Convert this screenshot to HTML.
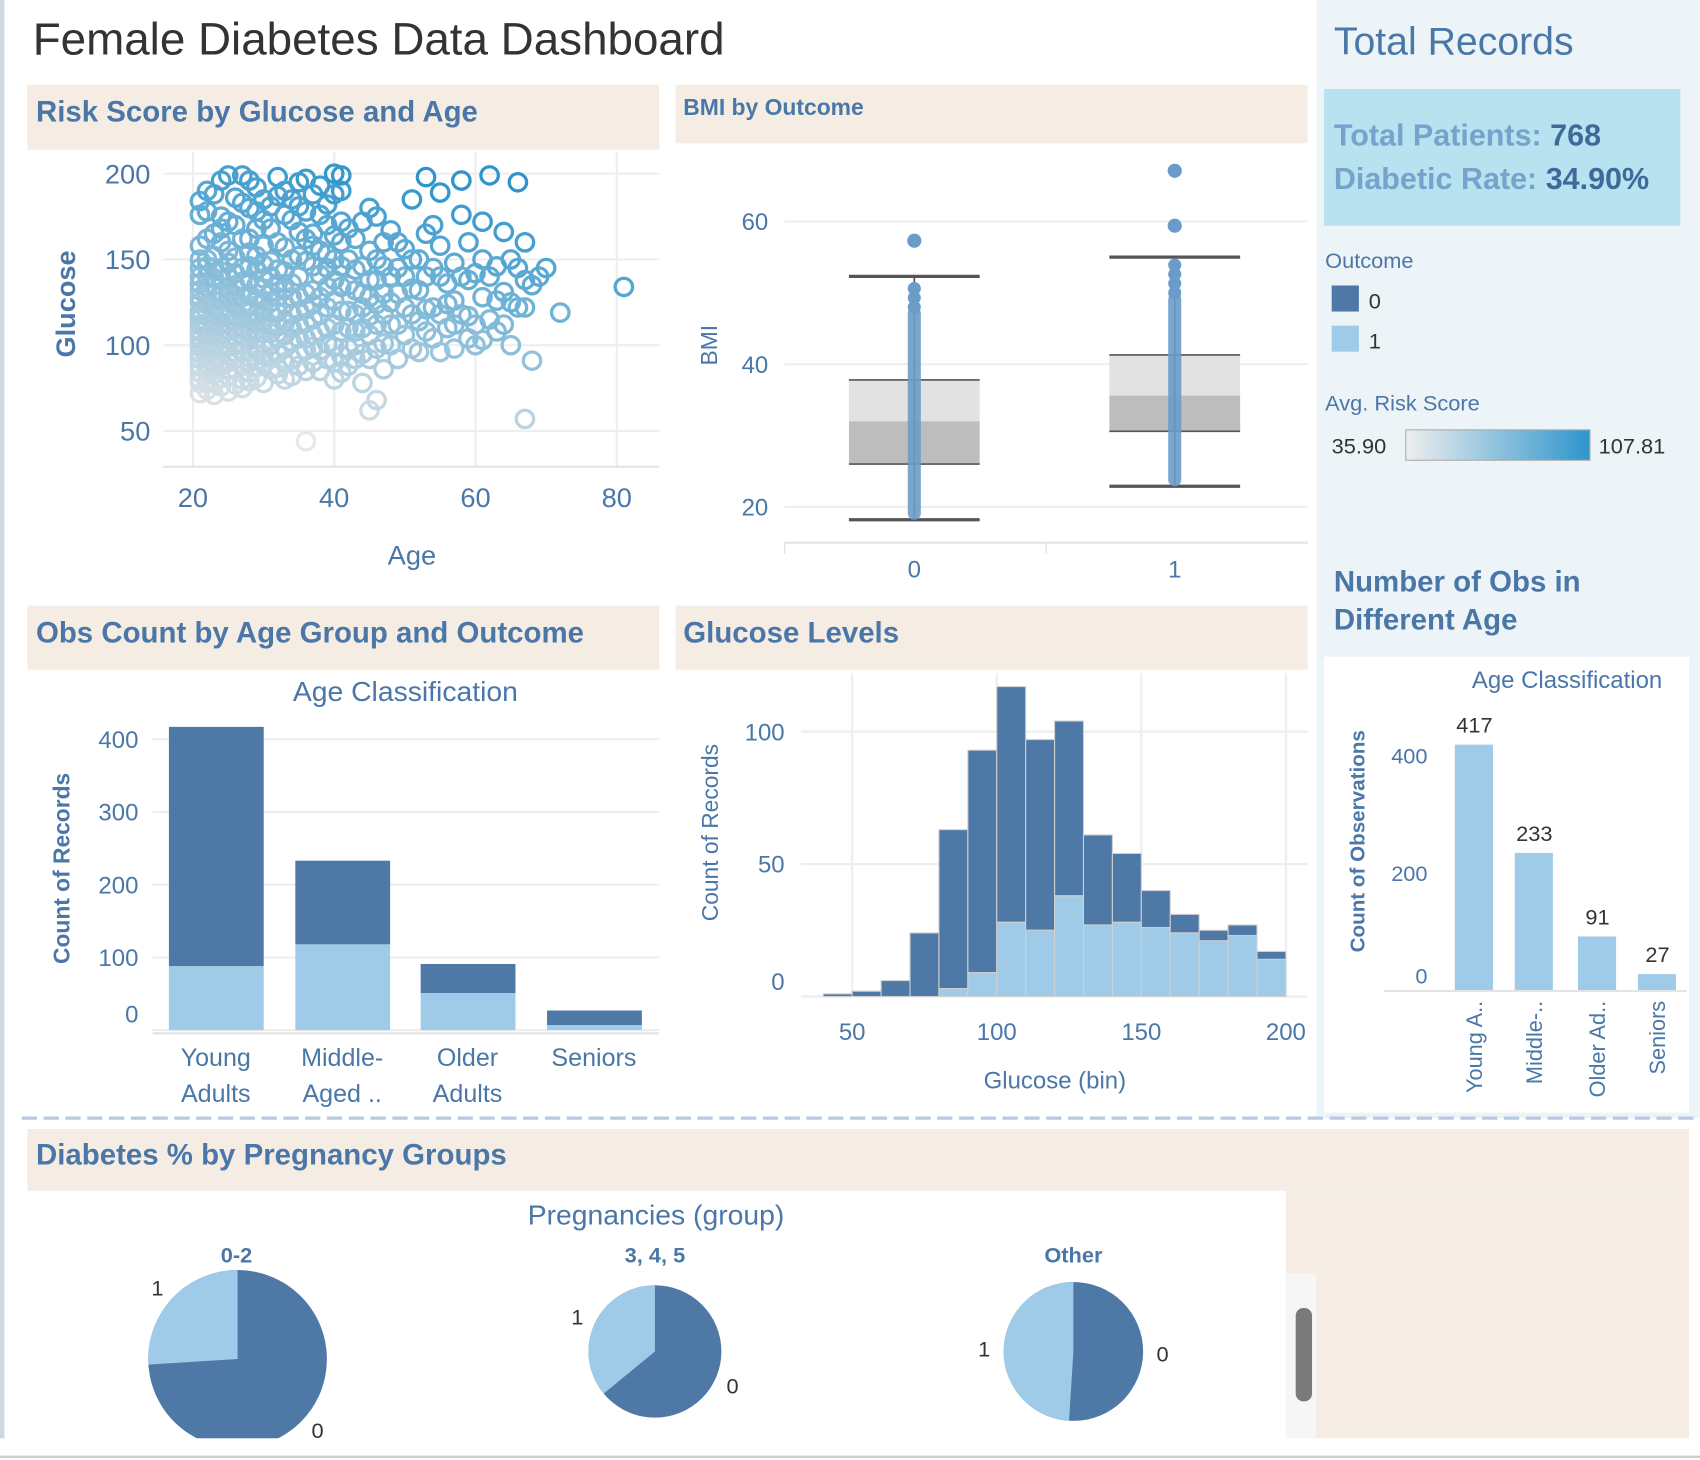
<!DOCTYPE html>
<html><head><meta charset="utf-8"><title>Female Diabetes Data Dashboard</title>
<style>
html,body{margin:0;padding:0;background:#fff;}
svg{display:block;font-family:"Liberation Sans",Arial,sans-serif;}
</style></head>
<body>
<svg id="dash" width="1700" height="1460" viewBox="0 0 1560 1345" preserveAspectRatio="none" xmlns="http://www.w3.org/2000/svg">
<rect x="0" y="0" width="1560" height="1345" fill="#fff"/>
<rect x="0" y="0" width="4" height="1345" fill="#cfd6df"/>
<rect x="1208" y="0" width="352" height="1030" fill="#ecf4f8"/>
<text x="30" y="50" font-size="42" fill="#333">Female Diabetes Data Dashboard</text>

<rect x="25" y="78" width="580" height="60" fill="#f5ede3"/>
<text x="33" y="112" font-size="27" font-weight="bold" fill="#4a77a8">Risk Score by Glucose and Age</text>
<rect x="620" y="78" width="580" height="54" fill="#f5ede3"/>
<text x="627" y="106" font-size="21" font-weight="bold" fill="#4a77a8">BMI by Outcome</text>
<rect x="25" y="558" width="580" height="59" fill="#f5ede3"/>
<text x="33" y="592" font-size="27" font-weight="bold" fill="#4a77a8">Obs Count by Age Group and Outcome</text>
<rect x="620" y="558" width="580" height="59" fill="#f5ede3"/>
<text x="627" y="592" font-size="27" font-weight="bold" fill="#4a77a8">Glucose Levels</text>

<text x="1224" y="50" font-size="36" fill="#4a77a8">Total Records</text>
<rect x="1215" y="82" width="327" height="126" fill="#b9e2f0"/>
<text x="1224" y="134" font-size="28" font-weight="bold" fill="#74a3cc">Total Patients: <tspan fill="#3d6a9a">768</tspan></text>
<text x="1224" y="174" font-size="28" font-weight="bold" fill="#74a3cc">Diabetic Rate: <tspan fill="#3d6a9a">34.90%</tspan></text>
<text x="1216" y="247" font-size="20" fill="#4a77a8">Outcome</text>
<rect x="1222" y="263" width="25" height="24" fill="#4e79a7"/>
<text x="1256" y="284" font-size="20" fill="#333">0</text>
<rect x="1222" y="300" width="25" height="24" fill="#a0cbe8"/>
<text x="1256" y="321" font-size="20" fill="#333">1</text>
<text x="1216" y="378" font-size="20" fill="#4a77a8">Avg. Risk Score</text>
<defs><linearGradient id="rg" x1="0" x2="1"><stop offset="0" stop-color="#eeeeee"/><stop offset="1" stop-color="#2e95cc"/></linearGradient></defs>
<rect x="1290" y="396" width="169" height="28" fill="url(#rg)" stroke="#aaa"/>
<text x="1222" y="418" font-size="20" fill="#333">35.90</text>
<text x="1467" y="418" font-size="20" fill="#333">107.81</text>
<text x="1224" y="545" font-size="27" font-weight="bold" fill="#4a77a8">Number of Obs in</text>
<text x="1224" y="580" font-size="27" font-weight="bold" fill="#4a77a8">Different Age</text>
<rect x="1215" y="605" width="335" height="420" fill="#fff"/>
<g id="ageobs"></g>

<g id="scatter"></g>
<g id="bmi"></g>
<g id="stack"></g>
<g id="hist"></g>

<line x1="20" y1="1030" x2="1556" y2="1030" stroke="#b9c9e2" stroke-width="3" stroke-dasharray="14,6"/>
<rect x="25" y="1040" width="1525" height="57" fill="#f5ede3"/>
<rect x="1180" y="1097" width="370" height="228" fill="#f5ede3"/>
<text x="33" y="1073" font-size="27" font-weight="bold" fill="#4a77a8">Diabetes % by Pregnancy Groups</text>
<text x="602" y="1128" font-size="26" fill="#4a77a8" text-anchor="middle">Pregnancies (group)</text>
<rect x="1180" y="1173" width="28" height="152" fill="#f6f6f6"/>
<rect x="1189" y="1205" width="15" height="86" rx="7" fill="#7a7a7a"/>
<g id="pies"></g>
<rect x="0" y="1325" width="1560" height="20" fill="#fff"/>
<line x1="0" y1="1342" x2="1560" y2="1342" stroke="#ccc" stroke-width="2"/>
</svg>
<script>
const NS="http://www.w3.org/2000/svg";
function mk(tag,attrs,parent){const e=document.createElementNS(NS,tag);for(const k in attrs)e.setAttribute(k,attrs[k]);parent.appendChild(e);return e;}
function txt(s,attrs,parent){const e=mk('text',attrs,parent);e.textContent=s;return e;}

const scatterAges=[21,22,23,24,25,26,27,28,29,30,31,32,33,34,35,36,37,38,39,40,41,42,43,44,45,46,47,48,49,50,51,52,53,54,55,56,57,58,59,60,61,62,63,64,65,66,67,68,69,70,72,81];
const scatterGlucose=[
[72,78,80,84,88,92,95,99,100,103,105,108,112,115,118,120,125,128,132,136,140,145,150,158,176,184],
[74,79,85,89,92,96,99,102,106,110,113,117,120,124,130,134,140,146,150,162,178,190],
[71,78,83,87,90,94,98,101,105,108,111,114,118,122,126,135,139,145,152,165,188],
[76,81,88,91,97,100,104,107,112,116,120,126,131,138,143,160,168,175,196],
[73,82,86,90,94,99,104,109,113,117,122,128,133,140,148,155,172,199],
[77,86,92,96,101,105,110,114,117,124,129,135,142,151,170,186],
[75,80,88,96,100,106,111,116,122,128,137,145,162,183,199],
[79,84,90,97,103,108,115,119,123,130,138,146,154,162,180,196],
[81,87,91,98,104,109,113,118,127,135,144,152,168,178,192],
[78,89,94,101,107,114,120,126,133,139,147,158,173,185],
[86,93,100,107,112,119,125,131,140,149,168,181],
[83,87,95,104,111,119,128,136,144,160,187,198],
[80,90,98,106,113,124,132,143,157,176,190],
[82,92,102,110,118,128,136,150,173,185],
[88,95,104,112,120,128,140,152,166,181,195],
[44,85,97,104,113,121,130,149,162,178,197],
[90,99,106,115,124,132,146,158,165,188],
[85,97,108,118,128,141,155,176,193],
[92,101,110,122,134,145,153,170,182],
[80,90,99,112,126,138,150,164,188,200],
[84,94,108,120,134,146,160,172,190,199],
[88,98,110,120,135,150,168],
[92,100,108,118,132,144,162],
[78,95,110,122,130,146,172],
[62,92,106,117,128,138,155,180],
[68,98,112,124,138,150,175],
[86,101,118,130,146,160],
[100,112,125,140,167],
[92,112,130,145,160],
[106,122,140,156],
[98,118,133,150,185],
[96,114,132,150],
[108,121,140,165,198],
[104,122,145,170],
[96,118,140,158,189],
[110,124,136],
[98,112,126,148],
[118,140,176,196],
[104,117,138,160],
[100,112,142],
[103,128,150,172],
[115,140,199],
[108,126,146],
[112,131,166],
[100,125,150],
[122,145,195],
[57,122,138,160],
[91,135],
[140],
[145],
[119],
[134]];
const bmiOutcomes=["0","1"];
const bmiWhiskLow=[18.2,22.9],bmiQ1=[26.0,30.6],bmiMed=[32.0,35.6],bmiQ3=[37.8,41.3],bmiWhiskHigh=[52.3,55.0];
const bmiOutliers=[[57.3],[59.4,67.1]];
const bmiStripLow=[18.2,22.9],bmiStripHigh=[48,50];
const ageClasses=[["Young","Adults"],["Middle-","Aged .."],["Older","Adults"],["Seniors"]];
const countOutcome0=[329,115,40,20];
const countOutcome1=[88,118,51,7];
const binStarts=[40,50,60,70,80,90,100,110,120,130,140,150,160,170,180,190];
const binTotal=[1,2,6,24,63,93,117,97,104,61,54,40,31,25,27,17];
const binOutcome1=[0,0,0,0,3,9,28,25,38,27,28,26,24,21,23,14];
const ageShort=["Young A..","Middle-..","Older Ad..","Seniors"];
const ageObs=[417,233,91,27];
const pieGroups=["0-2","3, 4, 5","Other"];
const pieDiabeticShare=[0.26,0.36,0.49];

(function(){
const g=document.getElementById('scatter');
const x0=150,x1=605,y0=140,y1=430;
const xs=a=>177+(a-20)*(566-177)/60, ys=v=>160+(200-v)*(397-160)/150;
[20,40,60,80].forEach(t=>{const l=mk('line',{x1:xs(t),x2:xs(t),y1:y0,y2:y1,stroke:'#eee','stroke-width':2},g);
 const tx=txt(String(t),{x:xs(t),y:467,'font-size':25,'text-anchor':'middle',fill:'#4a77a8'},g);});
[50,100,150,200].forEach(t=>{const l=mk('line',{x1:x0,x2:x1,y1:ys(t),y2:ys(t),stroke:'#eee','stroke-width':2},g);
 const tx=txt(String(t),{x:138,y:ys(t)+9,'font-size':25,'text-anchor':'end',fill:'#4a77a8'},g);});
mk('line',{x1:x0,x2:x1,y1:y1,y2:y1,stroke:'#e4e4e4','stroke-width':2},g);
const xt=txt('Age',{x:378,y:520,'font-size':25,'text-anchor':'middle',fill:'#4a77a8'},g);
const yt=txt('Glucose',{x:0,y:0,'font-size':25,'font-weight':'bold','text-anchor':'middle',fill:'#4a77a8',transform:'translate(69,280) rotate(-90)'},g);
const lo=[232,232,232],hi=[46,149,204];
scatterAges.forEach((a,i)=>{scatterGlucose[i].forEach(v=>{
 let t=(v-60)/140*0.85+(a-21)/60*0.35;t=Math.max(0,Math.min(1,t));
 const c='rgb('+lo.map((l,k)=>Math.round(l+(hi[k]-l)*t)).join(',')+')';
 const p=mk('circle',{cx:xs(a),cy:ys(v),r:8,fill:'none',stroke:c,'stroke-width':3},g);
 
 });});
})();

(function(){
const g=document.getElementById('bmi');
const ys=v=>467-(v-20)*(467-204)/40, cx=[839,1078];
[20,40,60].forEach(t=>{mk('line',{x1:720,x2:1200,y1:ys(t),y2:ys(t),stroke:'#eee','stroke-width':2},g);
 const tx=txt(String(t),{x:705,y:ys(t)+8,'font-size':22,'text-anchor':'end',fill:'#4a77a8'},g);});
mk('line',{x1:720,x2:1200,y1:500,y2:500,stroke:'#e4e4e4','stroke-width':2},g);
[720,960].forEach(x=>mk('line',{x1:x,x2:x,y1:500,y2:510,stroke:'#ddd'},g));
const yt=txt('BMI',{x:0,y:0,'font-size':21,'text-anchor':'middle',fill:'#4a77a8',transform:'translate(658,318) rotate(-90)'},g);
bmiOutcomes.forEach((o,i)=>{const c=cx[i];
 const tx=txt(o,{x:c,y:532,'font-size':22,'text-anchor':'middle',fill:'#4a77a8'},g);
 const b1=mk('rect',{x:c-60,y:ys(bmiQ3[i]),width:120,height:ys(bmiMed[i])-ys(bmiQ3[i]),fill:'#e2e2e2'},g);
 const b2=mk('rect',{x:c-60,y:ys(bmiMed[i]),width:120,height:ys(bmiQ1[i])-ys(bmiMed[i]),fill:'#bdbdbd'},g);
 [bmiQ3[i],bmiQ1[i]].forEach(v=>mk('line',{x1:c-60,x2:c+60,y1:ys(v),y2:ys(v),stroke:'#555','stroke-width':1.5},g));
 mk('line',{x1:c,x2:c,y1:ys(bmiWhiskHigh[i]),y2:ys(bmiWhiskLow[i]),stroke:'#555','stroke-width':1.5},g);
 [bmiWhiskHigh[i],bmiWhiskLow[i]].forEach(v=>{const w=mk('line',{x1:c-60,x2:c+60,y1:ys(v),y2:ys(v),stroke:'#555','stroke-width':3},g);});
 const s=mk('rect',{x:c-6,y:ys(bmiStripHigh[i]),width:12,height:ys(bmiStripLow[i])-ys(bmiStripHigh[i]),rx:6,fill:'#6b9bc8',opacity:0.9},g);
 for(let v=bmiStripHigh[i];v<=bmiWhiskHigh[i]-1;v+=1.3)mk('circle',{cx:c,cy:ys(v),r:6,fill:'#6b9bc8'},g);
 bmiOutliers[i].forEach(v=>{const p=mk('circle',{cx:c,cy:ys(v),r:6.5,fill:'#6b9bc8'},g);});
});
})();

(function(){
const g=document.getElementById('stack');
const ys=v=>949-v*0.67, cx=[198,314,429,545];
const at=txt('Age Classification',{x:372,y:646,'font-size':26,'text-anchor':'middle',fill:'#4a77a8'},g);
[0,100,200,300,400].forEach(t=>{mk('line',{x1:140,x2:605,y1:ys(t),y2:ys(t),stroke:'#eee','stroke-width':2},g);
 const tx=txt(String(t),{x:127,y:ys(t)+(t===0?-7:8),'font-size':22,'text-anchor':'end',fill:'#4a77a8'},g);});
const yt=txt('Count of Records',{x:0,y:0,'font-size':21,'font-weight':'bold','text-anchor':'middle',fill:'#4a77a8',transform:'translate(64,800) rotate(-90)'},g);
mk('line',{x1:140,x2:605,y1:952,y2:952,stroke:'#e4e4e4','stroke-width':2},g);
ageClasses.forEach((lab,i)=>{const c=cx[i];
 const r1=mk('rect',{x:c-43,y:ys(countOutcome1[i]),width:87,height:ys(0)-ys(countOutcome1[i]),fill:'#a0cbe8'},g);
 const tot=countOutcome0[i]+countOutcome1[i];
 const r0=mk('rect',{x:c-43,y:ys(tot),width:87,height:ys(countOutcome1[i])-ys(tot),fill:'#4e79a7'},g);
 lab.forEach((s,k)=>{const tx=txt(s,{x:c,y:982+k*33,'font-size':23,'text-anchor':'middle',fill:'#4a77a8'},g);});
});
})();

(function(){
const g=document.getElementById('hist');
const xs=v=>782+(v-50)*(1180-782)/150, ys=v=>918-v*2.44;
[50,100,150,200].forEach(t=>{mk('line',{x1:xs(t),x2:xs(t),y1:620,y2:918,stroke:'#eee','stroke-width':2},g);
 const tx=txt(String(t),{x:xs(t),y:958,'font-size':22,'text-anchor':'middle',fill:'#4a77a8'},g);});
[0,50,100].forEach(t=>{mk('line',{x1:735,x2:1200,y1:ys(t),y2:ys(t),stroke:'#eee','stroke-width':2},g);
 const tx=txt(String(t),{x:720,y:ys(t)+(t===0?-6:8),'font-size':22,'text-anchor':'end',fill:'#4a77a8'},g);});
const yt=txt('Count of Records',{x:0,y:0,'font-size':21,'text-anchor':'middle',fill:'#4a77a8',transform:'translate(659,767) rotate(-90)'},g);
const xt=txt('Glucose (bin)',{x:968,y:1003,'font-size':22,'text-anchor':'middle',fill:'#4a77a8'},g);
binStarts.forEach((b,i)=>{const x=xs(b),w=xs(b+10)-xs(b);
 const r0=mk('rect',{x:x,y:ys(binTotal[i]),width:w,height:ys(binOutcome1[i])-ys(binTotal[i]),fill:'#4e79a7',stroke:'#cfcfcf','stroke-width':1},g);
 if(binOutcome1[i]>0){const r1=mk('rect',{x:x,y:ys(binOutcome1[i]),width:w,height:ys(0)-ys(binOutcome1[i]),fill:'#a0cbe8',stroke:'#cfcfcf','stroke-width':1},g);}
});
})();

(function(){
const g=document.getElementById('ageobs');
const ys=v=>912-v*0.542, cx=[1353,1408,1466,1521];
const at=txt('Age Classification',{x:1438,y:634,'font-size':22,'text-anchor':'middle',fill:'#4a77a8'},g);
[0,200,400].forEach(t=>{const tx=txt(String(t),{x:1310,y:ys(t)+(t===0?-6:8),'font-size':20,'text-anchor':'end',fill:'#4a77a8'},g);});
const yt=txt('Count of Observations',{x:0,y:0,'font-size':19,'font-weight':'bold','text-anchor':'middle',fill:'#4a77a8',transform:'translate(1252,775) rotate(-90)'},g);
ageObs.forEach((v,i)=>{const c=cx[i];
 const r=mk('rect',{x:c-18,y:ys(v),width:35,height:ys(0)-ys(v),fill:'#a0cbe8'},g);
 const l=txt(String(v),{x:c,y:ys(v)-11,'font-size':20,'text-anchor':'middle',fill:'#333'},g);
 const xl=txt(ageShort[i],{x:0,y:0,'font-size':20,'text-anchor':'end',fill:'#4a77a8',transform:'translate('+(c+7)+',922) rotate(-90)'},g);
});
mk('line',{x1:1270,x2:1548,y1:913,y2:913,stroke:'#e4e4e4','stroke-width':2},g);
})();

(function(){
const g=document.getElementById('pies');
const cx=[218,601,985],cy=[1252,1245,1245],rr=[82,61,64],lx=[217,601,985];
pieGroups.forEach((name,i)=>{
 const h=txt(name,{x:lx[i],y:1163,'font-size':20,'font-weight':'bold','text-anchor':'middle',fill:'#4a77a8'},g);
 const c=cx[i],y=cy[i],r=rr[i],f=pieDiabeticShare[i];
 const full=mk('circle',{cx:c,cy:y,r:r,fill:'#4e79a7'},g);
 const a=-2*Math.PI*f; const ex=c+r*Math.sin(a), ey=y-r*Math.cos(a);
 const p=mk('path',{d:'M'+c+','+y+' L'+c+','+(y-r)+' A'+r+','+r+' 0 '+(f>0.5?1:0)+',0 '+ex+','+ey+' Z',fill:'#a0cbe8'},g);
 
 
 const m1=-Math.PI*f, m0=Math.PI*(1-f);
 const l1=txt('1',{x:c+(r+14)*Math.sin(m1)*1.05,y:y-(r+14)*Math.cos(m1)+7,'font-size':20,'text-anchor':'middle',fill:'#333'},g);
 const l0=txt('0',{x:c+(r+14)*Math.sin(m0)*1.05,y:y-(r+14)*Math.cos(m0)+7,'font-size':20,'text-anchor':'middle',fill:'#333'},g);
});
})();
</script>
</body></html>
